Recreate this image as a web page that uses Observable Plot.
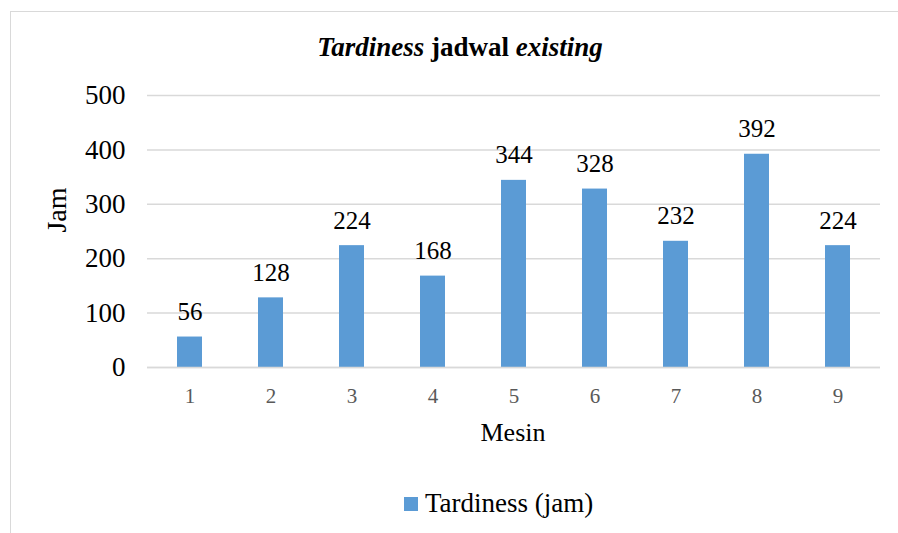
<!DOCTYPE html>
<html>
<head>
<meta charset="utf-8">
<script src="https://cdn.jsdelivr.net/npm/d3@7"></script>
<script src="https://cdn.jsdelivr.net/npm/@observablehq/plot@0.6"></script>
<style>
  html, body { margin: 0; padding: 0; background: #fff; }
  #wrap { position: relative; width: 898px; height: 533px; overflow: hidden; font-family: "Liberation Serif", "Times New Roman", serif; color: #000; }
  #frame { position: absolute; left: 10px; top: 11px; width: 920px; height: 560px; border: 1.5px solid #d9d9d9; box-sizing: border-box; }
  #title { position: absolute; left: 10px; width: 900px; top: 33px; text-align: center; font-size: 27px; font-weight: bold; line-height: 1.107; white-space: nowrap; }
  #ytitle { position: absolute; left: 55.5px; top: 210px; transform: translate(-50%, -50%) rotate(-90deg); font-size: 28px; line-height: 1.107; white-space: nowrap; }
  #xtitle { position: absolute; left: 513px; top: 419px; transform: translateX(-50%); font-size: 26px; line-height: 1.107; white-space: nowrap; }
  #legsw { position: absolute; left: 404px; top: 497px; width: 14px; height: 14px; background: #5B9BD5; }
  #legtx { position: absolute; left: 425px; top: 489px; font-size: 27px; line-height: 1.107; white-space: nowrap; }
  #chart { position: absolute; left: 0; top: 0; }
</style>
</head>
<body>
<div id="wrap">
  <div id="frame"></div>
  <div id="chart"></div>
  <div id="title"><i>Tardiness</i> jadwal <i>existing</i></div>
  <div id="ytitle">Jam</div>
  <div id="xtitle">Mesin</div>
  <div id="legsw"></div>
  <div id="legtx">Tardiness (jam)</div>
</div>
<script>
const mesin = [1, 2, 3, 4, 5, 6, 7, 8, 9];
const tardiness = [56, 128, 224, 168, 344, 328, 232, 392, 224];
const yTicks = [0, 100, 200, 300, 400, 500];

const data = mesin.map((m, i) => ({mesin: m, jam: tardiness[i]}));

const chart = Plot.plot({
  width: 898,
  height: 533,
  marginLeft: 147,
  marginRight: 18,
  marginTop: 95,
  marginBottom: 166,
  style: {background: "transparent", fontFamily: "Liberation Serif, Times New Roman, serif", overflow: "visible"},
  x: {type: "band", domain: mesin, paddingInner: 0.69, paddingOuter: 0.345, label: null},
  y: {domain: [0, 500], label: null},
  marks: [
    Plot.gridY(yTicks, {stroke: "#d9d9d9", strokeOpacity: 1, strokeWidth: 1.5}),
    Plot.axisY(yTicks, {tickSize: 0, tickPadding: 22, fontSize: 27, fill: "#000", label: null}),
    Plot.axisX({tickSize: 0, tickPadding: 21, fontSize: 21, fill: "#595959", label: null}),
    Plot.barY(data, {x: "mesin", y: "jam", fill: "#5B9BD5"}),
    Plot.ruleY([0], {stroke: "#d9d9d9", strokeWidth: 1.5}),
    Plot.text(data, {x: "mesin", y: "jam", text: d => String(d.jam), lineAnchor: "bottom", dy: -17, fontSize: 25, fill: "#000"})
  ]
});
document.getElementById("chart").appendChild(chart);
</script>
</body>
</html>
